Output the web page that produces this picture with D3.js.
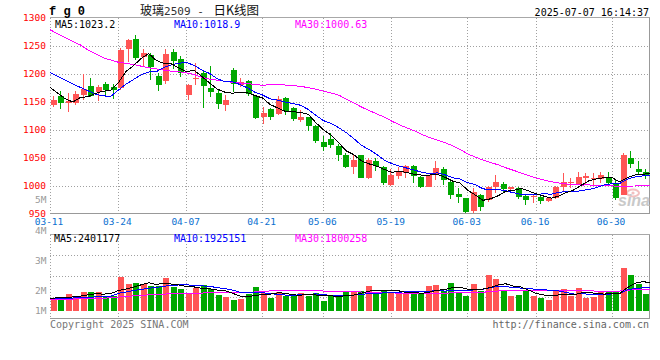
<!DOCTYPE html>
<html><head><meta charset="utf-8">
<script src="https://cdn.jsdelivr.net/npm/d3@7"></script>
<style>
html,body{margin:0;padding:0;background:#fff;}
svg{display:block;}
text{font-family:"DejaVu Sans Mono","Liberation Mono",monospace;}
</style></head><body>
<svg id="c" width="660" height="360"></svg>
<script>
// ---------- data ----------
const dates = ["03-11","03-12","03-13","03-14","03-17","03-18","03-19","03-20","03-21","03-24","03-25","03-26","03-27","03-28","03-31",
"04-01","04-02","04-03","04-07","04-08","04-09","04-10","04-11","04-14","04-15","04-16","04-17","04-18","04-21","04-22","04-23","04-24","04-25","04-28","04-29","04-30",
"05-06","05-07","05-08","05-09","05-12","05-13","05-14","05-15","05-16","05-19","05-20","05-21","05-22","05-23","05-26","05-27","05-28","05-29","05-30",
"06-03","06-04","06-05","06-06","06-09","06-10","06-11","06-12","06-13","06-16","06-17","06-18","06-19","06-20","06-23","06-24","06-25","06-26","06-27","06-30",
"07-01","07-02","07-03","07-04","07-07"];
const tickDates = ["03-11","03-24","04-07","04-21","05-06","05-19","06-03","06-16","06-30"];
const open  = [1144.6,1160.7,1149,1148,1162.5,1178.6,1167,1182,1177,1175,1244.6,1262.5,1229.8,1233.9,1196.4,1188.1,1238.7,1226.2,1162.5,1191.5,
1201.2,1174.4,1166.7,1144.6,1207.1,1180.4,1187.5,1160.7,1123.8,1136.9,1128.6,1157.8,1138.7,1117.9,1122.6,1107.2,1079.2,1083.4,1071.4,1055.4,
1034.5,1055.4,1013.7,1044.6,1034.5,1001.8,1017.9,1022.6,1035.7,1016.7,998.8,1019.6,1029.8,1007.8,985.1,978,955.9,983.9,975,997.6,
1003,994,995.8,982.7,980.9,979.8,973.2,978,998.8,1005,1003.6,1014.9,1014.3,1011.9,1016.7,1006,983.9,1050.6,1029.8,1025.6];
const high  = [1160.7,1169.6,1165.5,1170,1199.4,1193.5,1181,1186.3,1182,1246,1261.9,1269.6,1244.6,1237,1201.2,1244,1244,1232.1,1181.6,1219,
1207.1,1214.3,1173.2,1162.5,1210.1,1192.3,1189.3,1162.5,1141.7,1139.9,1160.7,1158.5,1140.5,1135.7,1123.5,1108.9,1089.3,1094,1075,1059.5,
1055.4,1056,1049.4,1049.4,1035.5,1029.8,1034.5,1037.5,1037.5,1017.5,1020,1044.6,1034.5,1010.7,995.8,979.2,995.8,985.1,1000,1019.6,
1007.7,998.8,997.6,983.9,983.9,985.1,981,1000,1022.6,1014.9,1025.6,1022.6,1023.8,1025.6,1025.6,1010.7,1058.3,1063.1,1044.6,1030.4];
const low   = [1140.5,1138.1,1132.7,1144,1153.6,1158.3,1152,1161,1155,1171,1222,1225,1214.3,1189.3,1169.6,1182.1,1208.3,1194,1153.6,1180.4,
1139.9,1159.5,1137.5,1134.5,1168.5,1177.4,1160.7,1119.6,1110.7,1117.9,1126.8,1126.8,1116.7,1114.9,1098.8,1077.4,1063.1,1067.3,1045.3,1031.6,
1021.4,1013.7,1011.9,1026.8,1001.8,1000.6,1011.9,1014.9,1004.8,995.8,997.6,1010.7,1001.8,976.8,969,951.2,951.2,955.4,972,986.9,
989.9,989.9,976.2,966.1,969,967.9,972,976.2,991,995.8,1001.8,1001.8,1001.8,1004.8,1000,975,983.9,1031.6,1019.6,1012.5];
const close = [1153.6,1147.6,1152,1164,1173.2,1161,1177,1171.4,1171,1242,1260.7,1229.2,1236.9,1213.1,1180.4,1235.1,1223.8,1201.2,1180.4,1192.3,
1178.6,1168.5,1145.8,1153.6,1181.6,1186.3,1164.3,1122,1131,1123.8,1154.8,1134.5,1119.6,1123.8,1107.2,1081,1070.2,1073.2,1055.4,1034.5,
1046.4,1014.9,1046.4,1035.7,1004.8,1019.6,1025.6,1035.7,1017.9,998.8,1019.6,1031.6,1010.7,983.9,980.9,954.2,989.9,963,997.6,1007.8,
994.6,997.6,981,975,982.7,973.8,979.2,998.8,1007.7,1006.5,1016.7,1017.9,1014.9,1019.6,1006,978,1055.4,1038.7,1025,1018.5];
const volume = [1040000,1100000,1400000,1040000,1570000,1570000,1570000,1240000,1240000,2840000,
2250000,2330000,2250000,2110000,2110000,2750000,2020000,1830000,1460000,1940000,
2160000,1830000,1320000,1180000,900000,980000,1400000,1990000,1520000,1070000,
1570000,1240000,1240000,1460000,1240000,1460000,840000,1240000,1240000,1540000,
1690000,1690000,2080000,1570000,1690000,1570000,1400000,1400000,1570000,1400000,
2080000,2160000,1690000,2360000,1570000,1240000,2250000,1690000,3010000,2670000,
1740000,1240000,1320000,1740000,1240000,1070000,900000,1690000,1830000,1240000,
1910000,1070000,1180000,1570000,1690000,1690000,3570000,3010000,2250000,1400000];
// moving-average values before a full window exists
const ma5Lead  = [1176,1166,1156,1150];
const ma10Lead = [1203,1196,1189,1182,1176,1170,1164,1161,1160];
const ma30Lead = [1279,1272,1265,1258,1252,1243,1236,1229,1225,1221,1219,1217,1214,1211,1209,1207,1205,1204,1202,1199,1194,1191,1189,1187,1185,1184,1183,1181,1180];
const vma5Lead  = [1050000,1080000,1120000,1160000];
const vma10Lead = [1000000,1020000,1050000,1070000,1100000,1130000,1160000,1190000,1220000];
const vma30Lead = [920000,940000,960000,980000,1000000,1020000,1040000,1060000,1080000,1150000,1200000,1250000,1290000,1330000,1360000,1400000,1420000,1440000,1450000,1470000,1490000,1500000,1510000,1520000,1520000,1530000,1550000,1580000,1600000];
const priceTicks = [1300,1250,1200,1150,1100,1050,1000,950];
const volTickVals = [5000000,4000000,3000000,2000000,1000000];
const volTickLabels = ["5M","4M","3M","2M","1M"];
const priceLegend = ["MA5:1023.2","MA10:1018.9","MA30:1000.63"];
const volLegend = ["MA5:2401177","MA10:1925151","MA30:1800258"];
const titleParts = ["玻璃", "2509 - ", "日K线图"];
const codeText = "f g 0";
const stampText = "2025-07-07 16:14:37";

// ---------- layout ----------
const L = 50, R = 650, RB = 649.5;
const mTop = 17.5, mBot = 213.5;
const vTop = 234.5, vBot = 318.5;
const RED = "#ff5555", GREEN = "#00a800";
const GRID = "#a0a0a0", FRAME = "#a8a8a8";

const svg = d3.select("#c");
const N = dates.length;
const xBand = d3.scaleBand().domain(dates).range([L, R]);
const xPt = d3.scalePoint().domain(dates).range([L, R]);
const y = d3.scaleLinear().domain([950, 1300]).range([214, 18]);
const yv = d3.scaleLinear().domain([0, 6440000]).range([310.7, 234.3]);
const yvLab = d3.scaleLinear().domain([1000000, 5000000]).range([320.4, 200]);

function movingAvg(src, n, lead) {
  return src.map((_, i) => i < n - 1 ? lead[i] : d3.mean(src.slice(i - n + 1, i + 1)));
}
const ma5 = movingAvg(close, 5, ma5Lead), ma10 = movingAvg(close, 10, ma10Lead), ma30 = movingAvg(close, 30, ma30Lead);
const vma5 = movingAvg(volume, 5, vma5Lead), vma10 = movingAvg(volume, 10, vma10Lead), vma30 = movingAvg(volume, 30, vma30Lead);

const px = v => Math.floor(v) + 0.5;

// ---------- grids ----------
const g = svg.append("g").attr("shape-rendering", "crispEdges");
const dash = "1,2";
g.selectAll("line.hg").data(priceTicks.slice(1, -1)).join("line")
  .attr("x1", L).attr("x2", RB).attr("y1", d => px(y(d))).attr("y2", d => px(y(d)))
  .attr("stroke", GRID).attr("stroke-dasharray", dash);
[[mTop, mBot], [vTop, vBot]].forEach(([t, b]) => {
  g.selectAll(null).data(tickDates).join("line")
    .attr("x1", d => px(xPt(d))).attr("x2", d => px(xPt(d)))
    .attr("y1", t).attr("y2", b).attr("stroke", GRID).attr("stroke-dasharray", dash);
});
g.selectAll("line.vg").data([1, 2, 3]).join("line")
  .attr("x1", L).attr("x2", RB)
  .attr("y1", d => px(vTop + (vBot - vTop) * d / 4)).attr("y2", d => px(vTop + (vBot - vTop) * d / 4))
  .attr("stroke", GRID).attr("stroke-dasharray", dash);
[[mTop, mBot], [vTop, vBot]].forEach(([t, b]) => {
  g.append("line").attr("x1", L).attr("x2", RB).attr("y1", t).attr("y2", t).attr("stroke", FRAME);
  g.append("line").attr("x1", L).attr("x2", RB + 0.5).attr("y1", b).attr("y2", b).attr("stroke", "#999");
  g.append("line").attr("x1", RB).attr("x2", RB).attr("y1", t).attr("y2", b).attr("stroke", "#999");
});

// ---------- watermark ----------
const wm = svg.append("g");
wm.append("ellipse").attr("cx", 633).attr("cy", 193).attr("rx", 6).attr("ry", 3.5)
  .attr("fill", "none").attr("stroke", "#f2c0c0").attr("stroke-width", 2);
wm.append("circle").attr("cx", 633).attr("cy", 193).attr("r", 1.6).attr("fill", "#f2c0c0");
wm.append("text").attr("x", 650).attr("y", 206).attr("text-anchor", "end")
  .style("font-family", "Liberation Sans, Arial, sans-serif").style("font-style", "italic").style("font-weight", "bold")
  .style("font-size", "16px").attr("fill", "#c9c9c9").text("sina");

// ---------- candles ----------
const bw = 6;
const bx = i => Math.round(xBand(dates[i]) + (xBand.bandwidth() - bw) / 2);
const col = i => close[i] >= open[i] ? RED : GREEN;
const idx = d3.range(N);
const cg = svg.append("g").attr("shape-rendering", "crispEdges");
cg.selectAll("rect.wick").data(idx).join("rect")
  .attr("x", i => bx(i) + 2).attr("width", 1)
  .attr("y", i => Math.round(y(high[i]))).attr("height", i => Math.max(1, Math.round(y(low[i])) - Math.round(y(high[i]))))
  .attr("fill", col);
cg.selectAll("rect.body").data(idx).join("rect")
  .attr("x", bx).attr("width", bw)
  .attr("y", i => Math.round(y(Math.max(open[i], close[i]))))
  .attr("height", i => Math.max(1, Math.round(y(Math.min(open[i], close[i]))) - Math.round(y(Math.max(open[i], close[i])))))
  .attr("fill", col);
cg.selectAll("rect.vol").data(idx).join("rect")
  .attr("x", bx).attr("width", bw)
  .attr("y", i => Math.round(yv(volume[i]))).attr("height", i => Math.round(yv(0)) - Math.round(yv(volume[i])))
  .attr("fill", col);

// ---------- MA lines ----------
const lg = svg.append("g").attr("fill", "none").attr("stroke-width", 1).attr("shape-rendering", "crispEdges");
const lineP = d3.line().x((d, i) => xPt(dates[i])).y(d => y(d));
const lineV = d3.line().x((d, i) => xPt(dates[i])).y(d => yv(d));
[[ma30, "#ff00ff"], [ma10, "#0000ff"], [ma5, "#000000"]].forEach(([s, c]) => lg.append("path").attr("d", lineP(s)).attr("stroke", c));
[[vma30, "#ff00ff"], [vma10, "#0000ff"], [vma5, "#000000"]].forEach(([s, c]) => lg.append("path").attr("d", lineV(s)).attr("stroke", c));

// ---------- texts ----------
const t = svg.append("g");
t.selectAll("text.py").data(priceTicks).join("text")
  .attr("x", 46).attr("y", d => y(d)).attr("dy", "0.36em").attr("text-anchor", "end")
  .style("font-size", "9.5px").attr("fill", "#ff0000").text(d => d);
t.selectAll("text.vy").data(volTickVals).join("text")
  .attr("x", 46.5).attr("y", d => Math.min(yv(0), yvLab(d))).attr("dy", "0.36em").attr("text-anchor", "end")
  .style("font-size", "9.5px").attr("fill", "#999").text((d, i) => volTickLabels[i]);
t.selectAll("text.dx").data(tickDates).join("text")
  .attr("x", d => xPt(d) - 1).attr("y", 222).attr("dy", "0.36em").attr("text-anchor", "middle")
  .style("font-size", "9.5px").attr("fill", "#0a70d0").text(d => d);
const legX = [55, 174, 295], legC = ["#000", "#0000ff", "#ff00ff"];
t.selectAll("text.pl").data(priceLegend).join("text")
  .attr("x", (d, i) => legX[i]).attr("y", 24).attr("dy", "0.36em")
  .style("font-size", "10px").attr("fill", (d, i) => legC[i]).text(d => d);
t.selectAll("text.vl").data(volLegend).join("text")
  .attr("x", (d, i) => legX[i] - (i ? 0 : 1)).attr("y", 238.5).attr("dy", "0.36em")
  .style("font-size", "10px").attr("fill", (d, i) => legC[i]).text(d => d);
t.append("text").attr("x", 49).attr("y", 15).style("font-family", "Liberation Mono, monospace")
  .style("font-weight", "bold").style("font-size", "12px").attr("fill", "#000").text(codeText);
const title = t.append("text").attr("x", 140).attr("y", 15).attr("xml:space", "preserve").attr("fill", "#111");
title.append("tspan").style("font-family", "Noto Sans CJK SC, sans-serif").style("font-size", "12px").text(titleParts[0]);
title.append("tspan").style("font-family", "DejaVu Sans Mono, monospace").style("font-size", "11px").attr("fill", "#333").text(titleParts[1]);
title.append("tspan").attr("dx", 3).style("font-family", "Noto Sans CJK SC, sans-serif").style("font-size", "12.5px").text(titleParts[2]);
t.append("text").attr("x", 649).attr("y", 15.5).attr("text-anchor", "end")
  .style("font-size", "10px").attr("fill", "#000").text(stampText);
t.append("text").attr("x", 50).attr("y", 324).attr("dy", "0.36em")
  .style("font-size", "10px").attr("fill", "#777").text("Copyright 2025 SINA.COM");
t.append("text").attr("x", 649).attr("y", 324).attr("dy", "0.36em").attr("text-anchor", "end")
  .style("font-size", "10px").attr("fill", "#666").text("http://finance.sina.com.cn");
</script></body></html>
